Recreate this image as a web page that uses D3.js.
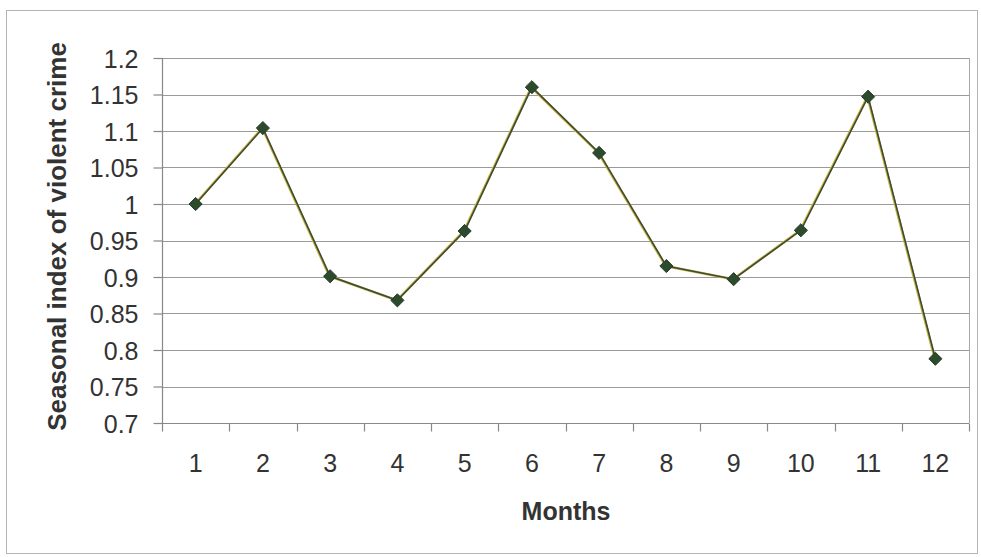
<!DOCTYPE html>
<html>
<head>
<meta charset="utf-8">
<script src="https://cdn.jsdelivr.net/npm/d3@7/dist/d3.min.js"></script>
<style>
  html, body { margin: 0; padding: 0; background: #fff; }
  svg { display: block; }
  text { font-family: Arial, "Liberation Sans", sans-serif; fill: #333; }
</style>
</head>
<body>
<svg id="chart" width="981" height="557"></svg>
<script>
// Monthly seasonal index of violent crime
const months = ["1", "2", "3", "4", "5", "6", "7", "8", "9", "10", "11", "12"];
const seasonalIndex = [1.0, 1.104, 0.901, 0.868, 0.963, 1.160, 1.070, 0.915, 0.897, 0.964, 1.147, 0.788];
const yTicks = [0.7, 0.75, 0.8, 0.85, 0.9, 0.95, 1, 1.05, 1.1, 1.15, 1.2];

const svg = d3.select("#chart");
const W = 981, H = 557;
const plot = { left: 162, top: 58, right: 969, bottom: 423 };

// outer chart frame
svg.append("rect")
  .attr("x", 6.5).attr("y", 10.5)
  .attr("width", W - 10).attr("height", H - 14)
  .attr("fill", "#fff").attr("stroke", "#b5b5b5").attr("stroke-width", 1);

const x = d3.scaleBand().domain(months).range([plot.left, plot.right]);
const y = d3.scaleLinear().domain([0.7, 1.2]).range([plot.bottom, plot.top]);

// horizontal gridlines
svg.append("g")
  .selectAll("line")
  .data(yTicks)
  .join("line")
  .attr("x1", plot.left).attr("x2", plot.right)
  .attr("y1", d => Math.round(y(d)) + 0.5).attr("y2", d => Math.round(y(d)) + 0.5)
  .attr("stroke", "#9a9a9a").attr("stroke-width", 1.2);

// right border of plot area
svg.append("line")
  .attr("x1", plot.right + 0.5).attr("x2", plot.right + 0.5)
  .attr("y1", plot.top).attr("y2", plot.bottom)
  .attr("stroke", "#a8a8a8").attr("stroke-width", 1);

// y axis
const yAxis = d3.axisLeft(y)
  .tickValues(yTicks)
  .tickSize(9)
  .tickPadding(15)
  .tickFormat(d => String(+d.toFixed(2)));
const gy = svg.append("g")
  .attr("transform", `translate(${plot.left + 0.5},0)`)
  .call(yAxis);
gy.selectAll("path, line").attr("stroke", "#888").attr("stroke-width", 1.2);
gy.select(".domain").attr("d", `M0,${plot.top}V${plot.bottom}`);
gy.selectAll("text").style("font-size", "25px").attr("fill", "#333").attr("dy", "0.36em");

// x axis with ticks at category boundaries
const boundaries = months.map(m => x(m)).concat([plot.right]);
const gx = svg.append("g").attr("transform", `translate(0,${plot.bottom + 0.5})`);
gx.append("line")
  .attr("x1", plot.left).attr("x2", plot.right)
  .attr("stroke", "#888").attr("stroke-width", 1.2);
gx.selectAll(".bt")
  .data(boundaries)
  .join("line")
  .attr("class", "bt")
  .attr("x1", d => Math.round(d) + 0.5).attr("x2", d => Math.round(d) + 0.5)
  .attr("y1", 0).attr("y2", 8)
  .attr("stroke", "#888").attr("stroke-width", 1.2);
gx.selectAll("text")
  .data(months)
  .join("text")
  .attr("x", d => x(d) + x.bandwidth() / 2)
  .attr("y", 48)
  .attr("text-anchor", "middle")
  .style("font-size", "25px")
  .text(d => d);

// series line
const line = d3.line()
  .x((d, i) => x(months[i]) + x.bandwidth() / 2)
  .y(d => y(d));
svg.append("path")
  .datum(seasonalIndex)
  .attr("d", line)
  .attr("fill", "none")
  .attr("stroke", "#c9b437")
  .attr("stroke-width", 2.6)
  .attr("transform", "translate(-0.6,0)");
svg.append("path")
  .datum(seasonalIndex)
  .attr("d", line)
  .attr("fill", "none")
  .attr("stroke", "#3b4a3c")
  .attr("stroke-width", 1.6);

// diamond markers
svg.append("g")
  .selectAll("path")
  .data(seasonalIndex)
  .join("path")
  .attr("d", d3.symbol(d3.symbolDiamond2, 110))
  .attr("transform", (d, i) => `translate(${x(months[i]) + x.bandwidth() / 2},${y(d)})`)
  .attr("fill", "#2c4a2c")
  .attr("stroke", "#2a3b2a")
  .attr("stroke-width", 1);

// axis titles
svg.append("text")
  .attr("transform", `translate(66,${(plot.top + plot.bottom) / 2 - 4}) rotate(-90)`)
  .attr("text-anchor", "middle")
  .style("font-size", "26px")
  .style("font-weight", "bold")
  .text("Seasonal index of violent crime");

svg.append("text")
  .attr("x", 566).attr("y", 520)
  .attr("text-anchor", "middle")
  .style("font-size", "25px")
  .style("font-weight", "bold")
  .text("Months");
</script>
</body>
</html>
